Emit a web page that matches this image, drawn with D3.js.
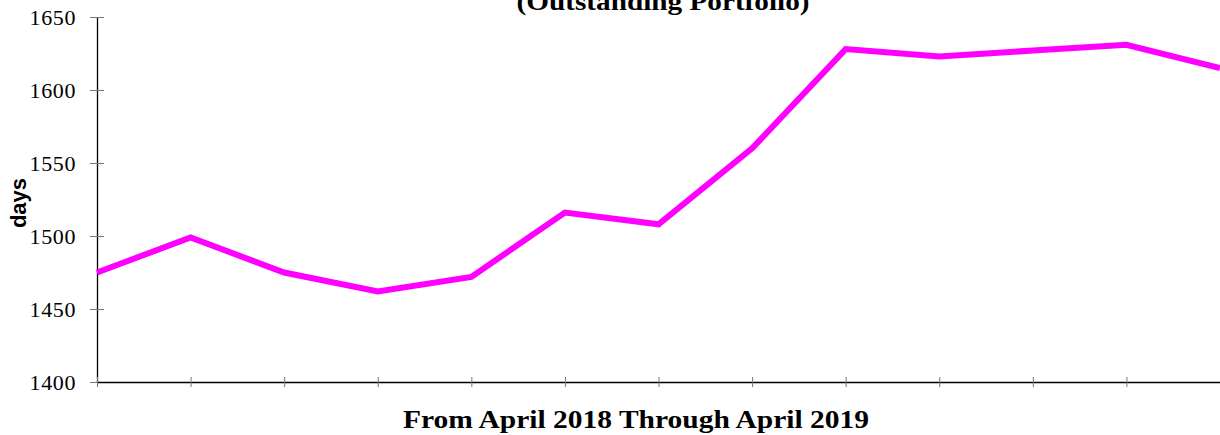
<!DOCTYPE html>
<html><head><meta charset="utf-8">
<script src="https://cdn.jsdelivr.net/npm/d3@7"></script>
<style>body{margin:0;background:#fff;} svg{display:block;}</style>
</head><body>
<script>
const months = ["Apr 2018","May 2018","Jun 2018","Jul 2018","Aug 2018","Sep 2018","Oct 2018","Nov 2018","Dec 2018","Jan 2019","Feb 2019","Mar 2019","Apr 2019"];
const days = [1475,1499,1475,1462,1472,1516,1508,1560,1628,1623,1627,1631,1615];
const yTicks = [1400,1450,1500,1550,1600,1650];
const titleText = "(Outstanding Portfolio)";
const xTitle = "From April 2018 Through April 2019";
const yTitle = "days";

const W=1220,H=435;
const m={left:97,right:0,top:17,bottom:53};
const serif="'Liberation Serif','Times New Roman',serif";
const svg=d3.select("body").append("svg").attr("width",W).attr("height",H);
const x=d3.scalePoint().domain(months).range([m.left,W-m.right]);
const y=d3.scaleLinear().domain([1400,1650]).range([H-m.bottom,m.top]);

// y axis
const ya=svg.append("g").attr("transform",`translate(${m.left},0)`)
  .call(d3.axisLeft(y).tickValues(yTicks).tickFormat(d3.format("d")).tickSize(7).tickPadding(14).tickSizeOuter(0));
ya.select(".domain").attr("stroke","#000").attr("stroke-width",1.3);
ya.selectAll(".tick line").attr("stroke","#777").attr("x2",-7).attr("x1",7);
ya.selectAll(".tick text").attr("font-family",serif).attr("font-size",22).attr("letter-spacing",0.6).attr("fill","#000").attr("dy","0.33em");

// x axis
const xa=svg.append("g").attr("transform",`translate(0,${H-m.bottom})`)
  .call(d3.axisBottom(x).tickSize(5).tickSizeOuter(0).tickFormat(""));
xa.select(".domain").attr("stroke","#000").attr("stroke-width",1.3);
xa.selectAll(".tick line").attr("stroke","#777").attr("y1",-5).attr("y2",5);

// line
svg.append("path").datum(days.map((d,i)=>[months[i],d]))
  .attr("fill","none").attr("stroke","#ff00ff").attr("stroke-width",6).attr("stroke-linejoin","miter")
  .attr("d",d3.line().x(d=>x(d[0])).y(d=>y(d[1])));

// titles
svg.append("text").attr("transform","translate(663,10) scale(1.17,1)").attr("text-anchor","middle")
  .attr("font-family",serif).attr("font-weight","bold").attr("font-size",25)
  .text(titleText);
svg.append("text").attr("transform","translate(636,428) scale(1.18,1)").attr("text-anchor","middle")
  .attr("font-family",serif).attr("font-weight","bold").attr("font-size",25)
  .text(xTitle);
svg.append("text").attr("transform","translate(26,203) rotate(-90)").attr("text-anchor","middle")
  .attr("font-family","'Liberation Sans',Arial,sans-serif").attr("font-weight","bold").attr("font-size",22)
  .text(yTitle);
</script>
</body></html>
